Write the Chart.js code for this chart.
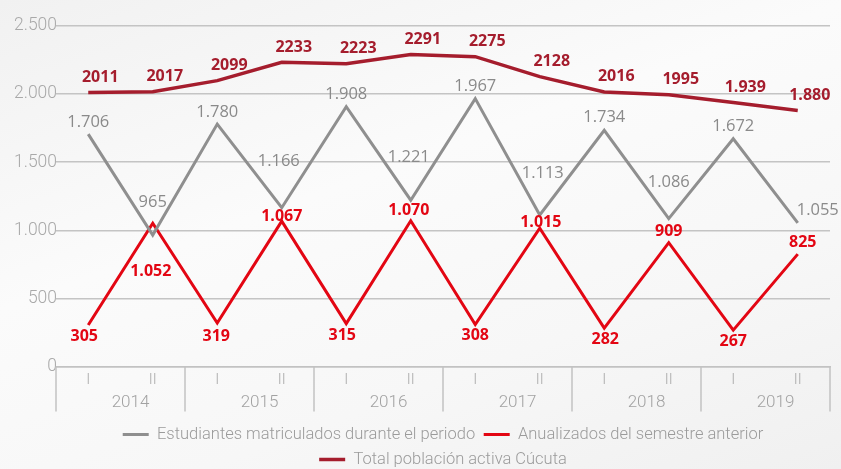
<!DOCTYPE html>
<html>
<head>
<meta charset="utf-8">
<script src="https://cdn.jsdelivr.net/npm/chart.js@4.4.1/dist/chart.umd.min.js"></script>
<style>
    html, body { margin: 0; padding: 0; }
    body {
        width: 841px;
        height: 469px;
        overflow: hidden;
        background: linear-gradient(160deg, #f1f1f1 0%, #fbfbfb 40%, #f7f7f7 70%, #f0f0f0 100%);
    }
    #wrap { position: relative; width: 841px; height: 469px; }
</style>
</head>
<body>
<div id="wrap"><canvas id="chart"></canvas></div>
<script>
const semesters = ['I', 'II', 'I', 'II', 'I', 'II', 'I', 'II', 'I', 'II', 'I', 'II'];
const years = ['2014', '2015', '2016', '2017', '2018', '2019'];

const matriculados = [1706, 965, 1780, 1166, 1908, 1221, 1967, 1113, 1734, 1086, 1672, 1055];
const anualizados = [305, 1052, 319, 1067, 315, 1070, 308, 1015, 282, 909, 267, 825];
const totalActiva = [2011, 2017, 2099, 2233, 2223, 2291, 2275, 2128, 2016, 1995, 1939, 1880];
// the source prints the first totals without a thousands separator
const totalLabels = ['2011', '2017', '2099', '2233', '2223', '2291', '2275', '2128', '2016', '1995', '1.939', '1.880'];

const yMin = 0;
const yMax = 2500;
const yStep = 500;

// label placement relative to each point (styling only)
const grayDx = [0, 0, 0, -3, 0, -2, 0, 3, 0, 0, 0, 20];
const grayDy = [-12, -33, -12, -46, -12, -43, -12, -42, -13, -36, -12, -13];
const redDx = [-4, -2, -1, 0, -4, -2, 0, 1, 1, 0, 0, 5];
const redDy = [11, 48, 13, -5, 12, -10, 11, -6, 11, -11, 11, -12];
const totalDx = 12;
const totalDy = -15;

const GRAY = '#8f8f8f';
const RED = '#e30613';
const DARK_RED = '#a51d2d';

function fmt(v) {
    return String(v).replace(/\B(?=(\d{3})+(?!\d))/g, '.');
}

const labelStyles = [
    { font: '500 16.5px "Open Sans"', color: '#8a8a8a', text: (j) => fmt(matriculados[j]), dx: (j) => grayDx[j], dy: (j) => grayDy[j] },
    { font: 'bold 16px "Open Sans"', color: RED, text: (j) => fmt(anualizados[j]), dx: (j) => redDx[j], dy: (j) => redDy[j] },
    { font: 'bold 16px "Open Sans"', color: DARK_RED, text: (j) => totalLabels[j], dx: () => totalDx, dy: () => totalDy }
];

const pointLabels = {
    id: 'pointLabels',
    afterDatasetsDraw(chart) {
        const ctx = chart.ctx;
        chart.data.datasets.forEach((ds, i) => {
            const meta = chart.getDatasetMeta(i);
            const st = labelStyles[i];
            ctx.save();
            ctx.font = st.font;
            ctx.fillStyle = st.color;
            ctx.textAlign = 'center';
            ctx.textBaseline = 'middle';
            meta.data.forEach((pt, j) => {
                ctx.fillText(st.text(j), pt.x + st.dx(j), pt.y + st.dy(j));
            });
            ctx.restore();
        });
    }
};

// vertical dividers of the year boxes under the axis
const yearBoxes = {
    id: 'yearBoxes',
    afterDraw(chart) {
        const x = chart.scales.x;
        const ctx = chart.ctx;
        const top = chart.chartArea.bottom;
        const bottom = top + 45;
        const step = x.width / years.length;
        ctx.save();
        ctx.strokeStyle = '#c2c2c2';
        ctx.lineWidth = 1.5;
        ctx.beginPath();
        for (let i = 0; i <= years.length; i++) {
            const px = x.left + i * step;
            ctx.moveTo(px, top);
            ctx.lineTo(px, bottom);
        }
        ctx.stroke();
        ctx.restore();
    }
};

function initializeChart() {
    const ctx = document.getElementById('chart').getContext('2d');

    new Chart(ctx, {
        type: 'line',
        data: {
            labels: semesters,
            datasets: [{
                label: 'Estudiantes matriculados durante el periodo',
                data: matriculados,
                borderColor: GRAY,
                backgroundColor: GRAY,
                borderWidth: 3,
                pointRadius: 0,
                tension: 0
            }, {
                label: 'Anualizados del semestre anterior',
                data: anualizados,
                borderColor: RED,
                backgroundColor: RED,
                borderWidth: 3,
                pointRadius: 0,
                tension: 0
            }, {
                label: 'Total población activa Cúcuta',
                data: totalActiva,
                borderColor: DARK_RED,
                backgroundColor: DARK_RED,
                borderWidth: 3.5,
                pointRadius: 0,
                tension: 0
            }]
        },
        options: {
            responsive: true,
            maintainAspectRatio: false,
            animation: false,
            layout: {
                padding: { top: 26, right: 11, bottom: -8.75, left: 0 }
            },
            plugins: {
                legend: {
                    position: 'bottom',
                    fullSize: false,
                    labels: {
                        usePointStyle: true,
                        pointStyle: 'line',
                        pointStyleWidth: 26,
                        padding: 8.5,
                        color: '#9b9b9b',
                        font: { family: 'Roboto', size: 16.5, weight: '300' }
                    }
                },
                tooltip: { enabled: false }
            },
            scales: {
                x: {
                    type: 'category',
                    position: 'bottom',
                    offset: true,
                    grid: { display: false, drawTicks: false },
                    border: { display: true, color: '#c2c2c2', width: 1.5 },
                    ticks: {
                        padding: 5,
                        color: '#ababab',
                        font: { family: 'Roboto', size: 15, weight: '300' },
                        maxRotation: 0,
                        autoSkip: false
                    },
                    afterFit: (s) => { s.height = 24; }
                },
                x2: {
                    type: 'category',
                    position: 'bottom',
                    labels: years,
                    offset: true,
                    grid: { display: false, drawTicks: false },
                    border: { display: false },
                    ticks: {
                        padding: 2,
                        labelOffset: 10,
                        color: '#a2a2a2',
                        font: { family: 'Roboto', size: 17, weight: '300' },
                        maxRotation: 0,
                        autoSkip: false
                    },
                    afterFit: (s) => { s.height = 27.25; }
                },
                y: {
                    min: yMin,
                    max: yMax,
                    grid: { color: '#c4c4c4', lineWidth: 1.5, drawTicks: false },
                    border: { display: false },
                    ticks: {
                        stepSize: yStep,
                        padding: -1,
                        color: '#a9a9a9',
                        font: { family: 'Roboto', size: 17.5, weight: '300' },
                        callback: (v) => fmt(v)
                    },
                    afterFit: (s) => { s.width = 56; }
                }
            }
        },
        plugins: [pointLabels, yearBoxes]
    });
}

document.addEventListener('DOMContentLoaded', () => {
    initializeChart();
});
</script>
</body>
</html>
